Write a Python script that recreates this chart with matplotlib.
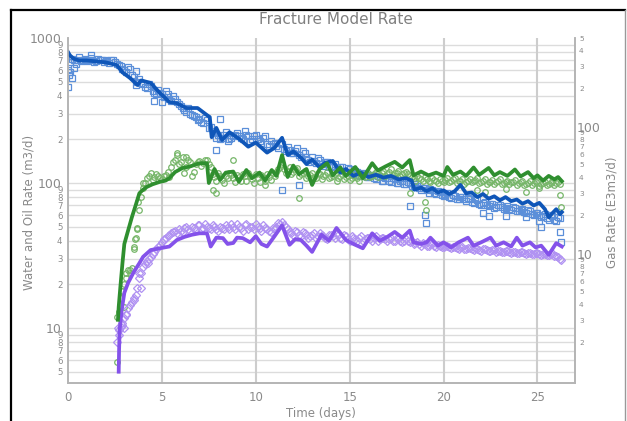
import matplotlib
matplotlib.use('Agg')
import matplotlib.pyplot as plt
from matplotlib.ticker import FixedLocator, FixedFormatter

# ---------------- data ----------------
obs_t = [0.0, 0.2, 0.4, 0.6, 0.8, 1.0, 1.2, 1.4, 1.6, 1.8,
         2.0, 2.2, 2.4, 2.6, 2.8, 3.0, 3.2, 3.4, 3.6, 3.8,
         4.0, 4.2, 4.4, 4.6, 4.8, 5.0, 5.2, 5.4, 5.6, 5.8,
         6.0, 6.2, 6.4, 6.6, 6.8, 7.0, 7.2, 7.4, 7.6, 7.8,
         8.0, 8.2, 8.4, 8.6, 8.8, 9.0, 9.2, 9.4, 9.6, 9.8,
         10.0, 10.2, 10.4, 10.6, 10.8, 11.0, 11.2, 11.4, 11.6, 11.8,
         12.0, 12.2, 12.4, 12.6, 12.8, 13.0, 13.2, 13.4, 13.6, 13.8,
         14.0, 14.2, 14.4, 14.6, 14.8, 15.0, 15.2, 15.4, 15.6, 15.8,
         16.0, 16.2, 16.4, 16.6, 16.8, 17.0, 17.2, 17.4, 17.6, 17.8,
         18.0, 18.2, 18.4, 18.6, 18.8, 19.0, 19.2, 19.4, 19.6, 19.8,
         20.0, 20.2, 20.4, 20.6, 20.8, 21.0, 21.2, 21.4, 21.6, 21.8,
         22.0, 22.2, 22.4, 22.6, 22.8, 23.0, 23.2, 23.4, 23.6, 23.8,
         24.0, 24.2, 24.4, 24.6, 24.8, 25.0, 25.2, 25.4, 25.6, 25.8,
         26.0, 26.2]

obs_t2 = [0.1, 0.3, 0.5, 0.7, 0.9, 1.1, 1.3, 1.5, 1.7, 1.9,
          2.1, 2.3, 2.5, 2.7, 2.9, 3.1, 3.3, 3.5, 3.7, 3.9,
          4.1, 4.3, 4.5, 4.7, 4.9, 5.1, 5.3, 5.5, 5.7, 5.9,
          6.1, 6.3, 6.5, 6.7, 6.9, 7.1, 7.3, 7.5, 7.7, 7.9,
          8.1, 8.3, 8.5, 8.7, 8.9, 9.1, 9.3, 9.5, 9.7, 9.9,
          10.1, 10.3, 10.5, 10.7, 10.9, 11.1, 11.3, 11.5, 11.7, 11.9,
          12.1, 12.3, 12.5, 12.7, 12.9, 13.1, 13.3, 13.5, 13.7, 13.9,
          14.1, 14.3, 14.5, 14.7, 14.9, 15.1, 15.3, 15.5, 15.7, 15.9,
          16.1, 16.3, 16.5, 16.7, 16.9, 17.1, 17.3, 17.5, 17.7, 17.9,
          18.1, 18.3, 18.5, 18.7, 18.9, 19.1, 19.3, 19.5, 19.7, 19.9,
          20.1, 20.3, 20.5, 20.7, 20.9, 21.1, 21.3, 21.5, 21.7, 21.9,
          22.1, 22.3, 22.5, 22.7, 22.9, 23.1, 23.3, 23.5, 23.7, 23.9,
          24.1, 24.3, 24.5, 24.7, 24.9, 25.1, 25.3, 25.5, 25.7, 25.9,
          26.1]

water_obs = [600, 720, 660, 740, 700, 690, 730, 680, 720, 700,
             710, 670, 700, 660, 640, 600, 630, 560, 590, 520,
             480, 450, 470, 420, 440, 410, 430, 380, 400, 360,
             340, 320, 330, 295, 285, 275, 260, 270, 245, 220,
             215, 205, 225, 200, 210, 220, 205, 230, 210, 200,
             215, 195, 205, 185, 195, 190, 175, 185, 165, 170,
             160, 175, 150, 160, 145, 150, 138, 145, 132, 140,
             130, 136, 124, 130, 120, 124, 116, 120, 112, 116,
             110, 114, 106, 110, 104, 108, 102, 106, 100, 103,
             98, 100, 94, 96, 90, 92, 86, 90, 84, 87,
             82, 85, 79, 82, 77, 80, 75, 78, 73, 76,
             71, 74, 69, 72, 68, 70, 66, 69, 65, 67,
             64, 66, 62, 64, 60, 62, 58, 61, 56, 59,
             55, 57]

water_obs2 = [680, 700, 710, 690, 720, 700, 710, 690, 700, 680,
              690, 700, 680, 650, 610, 580, 610, 540, 500, 490,
              460, 480, 430, 410, 420, 390, 410, 370, 380, 350,
              330, 310, 300, 290, 270, 265, 280, 240, 230, 205,
              200, 215, 195, 205, 215, 210, 200, 215, 195, 210,
              200, 190, 210, 180, 185, 180, 190, 172, 178, 160,
              165, 155, 165, 150, 140, 142, 148, 136, 140, 128,
              132, 126, 128, 122, 126, 118, 122, 114, 118, 110,
              112, 108, 112, 104, 108, 104, 108, 100, 104, 99,
              101, 96, 98, 92, 93, 89, 91, 85, 88, 83,
              84, 80, 83, 78, 80, 77, 79, 74, 77, 72,
              73, 70, 72, 67, 70, 68, 67, 66, 68, 64,
              65, 63, 65, 61, 62, 60, 59, 57, 60, 56,
              58]

water_out_t = [0.0, 0.05, 0.1, 0.2, 0.3, 1.2, 3.6, 4.6, 5.0, 7.9, 8.1, 11.4, 12.3,
               18.2, 19.0, 19.05, 22.1, 22.4, 23.3, 24.4, 25.1, 25.2, 26.2, 26.25]
water_out = [460, 560, 580, 530, 620, 760, 475, 370, 360, 169, 275, 90, 97,
             69, 60, 53, 62, 59, 59, 58, 55, 50, 46, 39]

gas_obs = [12, 16, 20, 25, 26, 42, 65, 92, 108, 118,
           110, 112, 106, 114, 110, 140, 155, 140, 118, 145,
           112, 135, 142, 138, 145, 130, 110, 118, 105, 112,
           118, 108, 114, 104, 112, 118, 106, 115, 102, 110,
           116, 105, 112, 125, 135, 118, 128, 120, 126, 115,
           122, 112, 118, 108, 116, 112, 120, 110, 116, 108,
           115, 110, 105, 114, 108, 116, 110, 118, 112, 120,
           114, 122, 116, 124, 118, 122, 116, 120, 112, 108,
           112, 106, 110, 104, 108, 103, 107, 102, 108, 104,
           109, 103, 107, 102, 106, 104, 108, 102, 106, 101,
           105, 102, 106, 100, 104, 101, 105, 100, 104, 99,
           103, 100, 104, 98, 102, 99, 103, 100, 98]

gas_obs2 = [13, 18, 24, 25, 36, 48, 80, 100, 112, 105,
            115, 108, 112, 120, 128, 145, 135, 150, 128, 140,
            120, 140, 132, 145, 135, 115, 104, 112, 100, 108,
            113, 102, 110, 116, 104, 112, 100, 108, 114, 104,
            110, 118, 120, 130, 125, 122, 116, 124, 112, 118,
            108, 114, 110, 118, 106, 114, 108, 112, 104, 112,
            106, 112, 108, 112, 104, 112, 115, 110, 116, 110,
            118, 112, 120, 114, 118, 112, 117, 116, 110, 104,
            108, 103, 106, 101, 105, 100, 104, 105, 101, 106,
            100, 104, 99, 103, 101, 105, 100, 103, 98, 102,
            99, 103, 98, 101, 98, 102, 97, 101, 97, 100,
            97, 101, 96, 100, 97, 100, 97, 101]

gas_out_t = [2.6, 2.7, 2.9, 3.0, 3.1, 3.3, 3.5, 3.55, 3.7, 3.75, 4.0, 5.8, 6.3,
             7.7, 7.9, 8.8, 10.5, 12.3, 18.2, 19.0, 19.05, 21.8, 22.2, 23.3,
             24.4, 25.1, 26.2, 26.25]
gas_out = [5.8, 13, 18, 14, 22, 24, 35, 41, 49, 74, 100, 160, 150,
           90, 85, 144, 97, 79, 85, 74, 65, 90, 87, 91,
           87, 92, 83, 68]

oil_obs = [8.0, 10.2, 11.7, 13.7, 15.1, 17, 22, 26.4, 29, 31,
           33.5, 36, 39, 42, 44, 46, 45, 47, 49, 48,
           50, 48, 51, 49, 50, 48, 50, 47, 49, 51,
           48, 50, 52, 49, 51, 48, 50, 52, 49, 51,
           48, 46, 48, 53, 54, 50, 46, 44, 46, 43,
           45, 42, 44, 42, 45, 43, 41, 44, 42, 44,
           41, 43, 40, 42, 40, 43, 41, 42, 40, 43,
           41, 42, 40, 42, 40, 41, 39, 41, 39, 38,
           39, 37, 38, 37, 38, 36, 37, 36, 37, 35.5,
           36, 35, 36, 35, 35.5, 34.5, 35, 34, 35, 34,
           34.5, 33.5, 34, 33.5, 34, 33, 33.5, 33, 33.5, 32.5,
           33, 32.5, 33, 32, 32.5, 32, 33, 31.5, 30]

oil_obs2 = [9.0, 10.8, 12.5, 14.5, 16, 19, 24, 27.5, 30, 32.5,
            35, 37.5, 41, 43, 45, 47, 48, 46, 50, 47,
            49, 51, 48, 52, 49, 51, 48, 50, 48, 50,
            52, 48, 50, 47, 52, 50, 48, 50, 47, 49,
            47, 49, 50, 52, 51, 48, 45, 47, 44, 46,
            44, 43, 45, 43, 44, 42, 44, 43, 45, 42,
            44, 41, 43, 41, 42, 40, 42, 41, 42, 40,
            42, 41, 41, 40, 42, 40, 40, 40, 40, 38.5,
            38, 38.5, 37, 38, 37, 37.5, 36.5, 37, 36, 36.5,
            35.5, 36, 35, 35.5, 35, 35.5, 34.5, 35, 34.5, 34,
            34.5, 34, 33.5, 34, 33.5, 33.5, 33, 33.5, 33, 33,
            32.5, 33, 32.5, 32.5, 32, 32.5, 31.5, 31]

oil_out_t = [2.65, 2.7, 2.9, 3.0, 3.1, 3.5, 3.8, 3.9, 4.25, 26.25]
oil_out = [10.0, 9.7, 10.5, 10.0, 12.3, 15.6, 24, 18.9, 28, 29.5]

water_fit_t = [0.0, 0.1, 0.3, 0.6, 1.0, 1.5, 2.0, 2.6, 2.9, 3.3, 3.7, 3.9, 4.4, 4.9,
               5.4, 5.8, 6.3, 6.9, 7.4, 7.55, 7.65, 7.9, 8.2, 8.6, 9.15, 9.6, 10.0,
               10.6, 11.0, 11.4, 11.7, 12.0, 12.4, 12.7, 13.0, 13.4, 13.7, 14.1, 14.5,
               14.8, 15.2, 15.6, 16.0, 16.4, 16.8, 17.2, 17.6, 18.0, 18.3, 18.45, 18.8,
               19.1, 19.4, 19.7, 20.0, 20.3, 20.6, 20.9, 21.2, 21.5, 21.8, 22.1, 22.4,
               22.7, 23.0, 23.3, 23.6, 23.9, 24.2, 24.5, 24.8, 25.1, 25.4, 25.6, 25.8,
               26.0, 26.2, 26.3]
water_fit = [800, 760, 720, 700, 700, 690, 680, 650, 580, 530, 474, 510, 490, 417,
             362, 355, 329, 329, 294, 285, 207, 240, 198, 224, 200, 178, 190,
             162, 175, 205, 156, 165, 150, 135, 145, 128, 138, 142, 118,
             125, 112, 118, 110, 114, 109, 112, 106, 108, 104, 90, 93,
             88, 92, 86, 89, 84, 88, 97, 85, 86, 80, 84, 78,
             81, 76, 80, 75, 77, 72, 75, 70, 73, 66, 58, 62,
             66, 61, 63]

gas_fit_t = [2.66, 2.7, 2.8, 2.9, 3.0, 3.2, 3.4, 3.6, 3.8, 4.0, 4.2, 4.5, 4.9, 5.2,
             5.4, 5.7, 6.1, 6.5, 7.0, 7.4, 7.5, 7.8, 8.1, 8.4, 8.8, 9.1, 9.5, 9.8,
             10.2, 10.5, 10.85, 11.1, 11.4, 11.7, 12.0, 12.3, 12.7, 13.0, 13.4, 13.8,
             14.1, 14.5, 14.8, 15.3, 15.7, 16.2, 16.5, 16.9, 17.4, 17.8, 18.2, 18.4,
             18.8, 19.2, 19.6, 20.0, 20.2, 20.5, 20.9, 21.2, 21.6, 21.9, 22.4, 22.7,
             23.0, 23.4, 23.8, 24.1, 24.5, 24.8, 25.0, 25.3, 25.6, 25.9, 26.1, 26.3]
gas_fit = [11.4, 14, 20, 28, 38, 47, 58, 70, 85, 90, 94, 98, 102, 104,
           108, 119, 127, 130, 137, 137, 100, 125, 105, 118, 120, 102, 123, 108,
           118, 104, 123, 112, 156, 110, 132, 115, 125, 97, 125, 137,
           113, 128, 112, 129, 108, 137, 122, 130, 140, 128, 144, 113,
           120, 113, 118, 112, 129, 114, 120, 112, 128, 114, 127, 113,
           119, 112, 124, 111, 119, 108, 113, 104, 112, 106, 110, 103]

oil_fit_t = [2.7, 2.72, 2.75, 2.85, 3.0, 3.2, 3.5, 3.8, 4.0, 4.4, 4.9, 5.4, 5.8, 6.2,
             6.6, 7.0, 7.4, 7.6, 7.9, 8.25, 8.5, 8.8, 9.0, 9.3, 9.7, 10.0, 10.3, 10.6,
             11.0, 11.4, 11.8, 12.1, 12.4, 12.7, 13.0, 13.5, 13.9, 14.3, 14.8, 15.2,
             15.7, 16.2, 16.6, 17.0, 17.4, 17.8, 18.2, 18.4, 18.8, 19.1, 19.3, 19.7,
             20.0, 20.4, 20.8, 21.3, 21.6, 22.0, 22.5, 22.8, 23.2, 23.6, 23.9, 24.2,
             24.6, 24.9, 25.2, 25.6, 26.0, 26.3]
oil_fit = [5.0, 7.0, 9.7, 13, 17.5, 20.5, 24.3, 28, 31, 34.5, 35.5, 36.5, 40.5, 42.5,
           44, 45, 45, 36.5, 42, 41.7, 38, 38.6, 42, 41.7, 39, 43, 38, 36.5,
           43, 51, 37.5, 41, 40.5, 37, 33.5, 44, 40, 49, 40.5, 38,
           35.5, 45, 40, 42.5, 46, 42, 47, 39, 38, 39, 42, 37,
           39, 36, 39, 42, 37, 39, 42, 37, 39, 36.5, 42, 37,
           39, 36, 37, 32, 38.5, 36.5]

x_ticks = [0, 5, 10, 15, 20, 25]
left_major = [10, 100, 1000]
left_minor = [5, 6, 7, 8, 9, 20, 30, 40, 50, 60, 70, 80, 90,
              200, 300, 400, 500, 600, 700, 800, 900]
right_major = [10, 100]
right_minor = [2, 3, 4, 5, 6, 7, 8, 9, 20, 30, 40, 50, 60, 70, 80, 90,
               200, 300, 400, 500]

# ---------------- styling ----------------
W, H = 627, 421
fig = plt.figure(figsize=(W / 100, H / 100), dpi=100)
fig.patch.set_facecolor('white')
ax = fig.add_axes([68 / W, 1 - 383 / H, (575 - 68) / W, (383 - 38) / H])
ax.set_yscale('log')
ax.set_xlim(0, 27)
ax.set_ylim(4.18, 1000)

ax2 = ax.twinx()
ax2.set_yscale('log')
ax2.set_ylim(0.96, 500)

tick_col = '#8a8a8a'
spine_col = '#b4b4b4'

for a in (ax, ax2):
    a.spines['top'].set_visible(False)
    for s in ('left', 'right', 'bottom'):
        a.spines[s].set_color(spine_col)
        a.spines[s].set_linewidth(1.2)

# grid
for v in left_minor + left_major[:-1]:
    ax.axhline(v, color='#dcdcdc', lw=1.0, zorder=0)
for x in x_ticks[1:]:
    ax.axvline(x, color='#cdcdcd', lw=1.5, zorder=0)

# ticks
ax.set_xticks(x_ticks)
ax.set_xticklabels([str(x) for x in x_ticks])
ax.tick_params(axis='x', length=0, pad=6, labelsize=8.5, labelcolor=tick_col)

ax.yaxis.set_major_locator(FixedLocator(left_major))
ax.yaxis.set_major_formatter(FixedFormatter([str(v) for v in left_major]))
ax.yaxis.set_minor_locator(FixedLocator(left_minor))
ax.yaxis.set_minor_formatter(FixedFormatter([str(v)[0] for v in left_minor]))
ax.tick_params(axis='y', which='major', length=0, pad=5, labelsize=9, labelcolor=tick_col)
ax.tick_params(axis='y', which='minor', length=0, pad=4, labelsize=6.2, labelcolor=tick_col)

ax2.yaxis.set_major_locator(FixedLocator(right_major))
ax2.yaxis.set_major_formatter(FixedFormatter([str(v) for v in right_major]))
ax2.yaxis.set_minor_locator(FixedLocator(right_minor))
ax2.yaxis.set_minor_formatter(FixedFormatter([str(v)[0] for v in right_minor]))
ax2.tick_params(axis='y', which='major', length=0, pad=1, labelsize=9, labelcolor=tick_col)
ax2.tick_params(axis='y', which='minor', length=0, pad=3, labelsize=5.3, labelcolor=tick_col)

# colours
blue_l, blue_m = '#0f56b8', '#5b8fd9'
green_l, green_m = '#2f8f2f', '#76b669'
purp_l, purp_m = '#8452ea', '#b193f2'

mk = dict(linestyle='none', mfc='none', mew=0.9, zorder=2)
ax.plot(obs_t, water_obs, marker='s', ms=4, mec=blue_m, **mk)
ax.plot(obs_t2, water_obs2, marker='s', ms=4, mec=blue_m, **mk)
ax.plot(water_out_t, water_out, marker='s', ms=4, mec=blue_m, **mk)
ax.plot(obs_t[13:], gas_obs, marker='o', ms=4, mec=green_m, **mk)
ax.plot(obs_t2[13:], gas_obs2, marker='o', ms=4, mec=green_m, **mk)
ax.plot(gas_out_t, gas_out, marker='o', ms=4, mec=green_m, **mk)
ax.plot(obs_t[13:], oil_obs, marker='D', ms=3.6, mec=purp_m, **mk)
ax.plot(obs_t2[13:], oil_obs2, marker='D', ms=3.6, mec=purp_m, **mk)
ax.plot(oil_out_t, oil_out, marker='D', ms=3.6, mec=purp_m, **mk)

ax.plot(water_fit_t, water_fit, color=blue_l, lw=2.7, zorder=3, solid_joinstyle='round')
ax.plot(oil_fit_t, oil_fit, color=purp_l, lw=2.7, zorder=3, solid_joinstyle='round')
ax.plot(gas_fit_t, gas_fit, color=green_l, lw=2.7, zorder=4, solid_joinstyle='round')

# texts
fig.text(336 / W, 1 - 19 / H, 'Fracture Model Rate', ha='center', va='center',
         fontsize=11, color='#808080')
fig.text(29 / W, 1 - 212 / H, 'Water and Oil Rate (m3/d)', ha='center', va='center',
         rotation=90, fontsize=8.5, color=tick_col)
fig.text(612 / W, 1 - 212 / H, 'Gas Rate (E3m3/d)', ha='center', va='center',
         rotation=90, fontsize=8.5, color=tick_col)
fig.text(321 / W, 1 - 413 / H, 'Time (days)', ha='center', va='center',
         fontsize=8.5, color=tick_col)

# outer frame
fig.add_artist(plt.Line2D([11 / W, 625 / W], [1 - 10 / H, 1 - 10 / H], color='black', lw=1.6))
fig.add_artist(plt.Line2D([11 / W, 11 / W], [0, 1 - 10 / H], color='black', lw=1.6))
fig.add_artist(plt.Line2D([625 / W, 625 / W], [0, 1 - 10 / H], color='#999999', lw=1.0))

fig.savefig('out.png', dpi=100)
